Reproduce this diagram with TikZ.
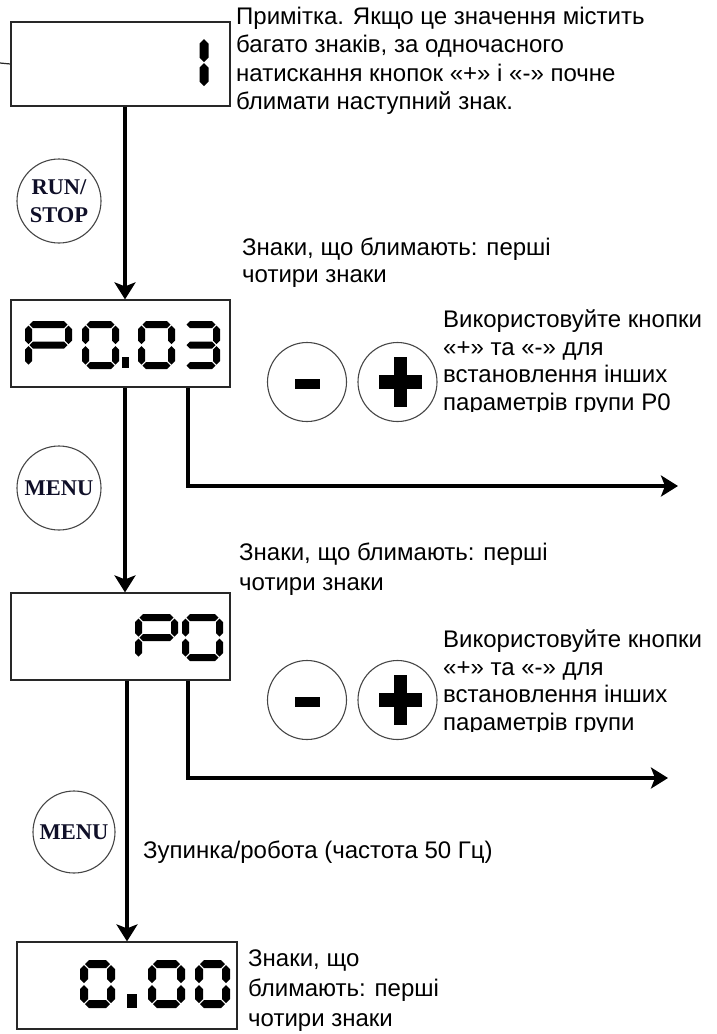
\documentclass[tikz,border=0pt]{standalone}
\usepackage{fontspec}
\setmainfont{Liberation Sans}
\newfontfamily\keyfont{Liberation Serif}
\usetikzlibrary{
    arrows.meta,
    positioning,
    calc
}
\definecolor{keyink}{RGB}{15,15,40}
\definecolor{rimgray}{RGB}{70,70,70}
\definecolor{boxgray}{RGB}{40,40,40}

% seven-segment helpers
\def\hs{3.5}
\newcommand\hseg[3]{\fill (#1,#3) -- (#1+\hs,#3-\hs) -- (#2-\hs,#3-\hs) -- (#2,#3) -- (#2-\hs,#3+\hs) -- (#1+\hs,#3+\hs) -- cycle;}
\newcommand\vseg[3]{\fill (#1,#2) -- (#1+\hs,#2+\hs) -- (#1+\hs,#3-\hs) -- (#1,#3) -- (#1-\hs,#3-\hs) -- (#1-\hs,#2+\hs) -- cycle;}
\def\lcdsega{\hseg{\hs+1}{\dw-\hs-1}{\hs}}
\def\lcdsegg{\hseg{\hs+1}{\dw-\hs-1}{\dh/2}}
\def\lcdsegd{\hseg{\hs+1}{\dw-\hs-1}{\dh-\hs}}
\def\lcdsegf{\vseg{\hs}{\hs+1}{\dh/2-1}}
\def\lcdsegb{\vseg{\dw-\hs}{\hs+1}{\dh/2-1}}
\def\lcdsege{\vseg{\hs}{\dh/2+1}{\dh-\hs-1}}
\def\lcdsegc{\vseg{\dw-\hs}{\dh/2+1}{\dh-\hs-1}}
\newcommand\lcddigit[5]{%
  \begin{scope}[shift={(#1,#2)}]
    \pgfmathsetmacro\dw{#3}\pgfmathsetmacro\dh{#4}
    \foreach \s in {#5}{\csname lcdseg\s\endcsname}
  \end{scope}}

\begin{document}
\begin{tikzpicture}[x=1pt, y=-1pt,
    dispbox/.style={draw=boxgray, line width=1.2pt, minimum width=219pt, minimum height=84pt, inner sep=0pt},
    keybtn/.style={circle, draw=rimgray, line width=1.1pt, minimum size=84pt, inner sep=0pt,
        font=\keyfont\bfseries\fontsize{22.5}{28}\selectfont, text=keyink, align=center},
    pmbtn/.style={circle, draw=rimgray, line width=1.1pt, minimum size=79pt, inner sep=0pt},
    flow/.style={line width=4.5pt, -{Stealth[length=17pt, width=21pt, inset=4pt]}},
    note/.style={anchor=north west, inner sep=0pt, align=left}
]
    \useasboundingbox (0,0) rectangle (716,1034);

    % displays
    \node[dispbox] (disp1) at (120.5,64) {};
    \node[dispbox, minimum height=87pt] (disp2) at (120.5,343.5) {};
    \node[dispbox, minimum height=87pt] (disp3) at (120.5,636.5) {};
    \node[dispbox, minimum width=220pt, minimum height=87pt] (disp4) at (127,985.5) {};
    \coordinate (stub) at (0,63);
    \draw[boxgray, line width=1.2pt] (stub) -- (disp1.west);

    % digits
    {\def\hs{4.5}
    \vseg{204}{39}{62}
    \vseg{204}{63}{86}}
    \lcddigit{25}{321}{47}{48}{a,b,e,f,g}
    \lcddigit{82}{321}{37}{48}{a,b,c,d,e,f}
    \fill (122,357) rectangle (129,368);
    \lcddigit{138}{321}{37}{48}{a,b,c,d,e,f}
    \lcddigit{182}{321}{38}{48}{a,b,c,d,g}
    \lcddigit{135}{614}{43}{47}{a,b,e,f,g}
    \lcddigit{182}{614}{41}{47}{a,b,c,d,e,f}
    {\def\hs{4}
    \lcddigit{80}{960}{35}{48}{a,b,c,d,e,f}
    \fill (127,994) rectangle (137,1008);
    \lcddigit{148}{960}{37}{48}{a,b,c,d,e,f}
    \lcddigit{195}{960}{35}{48}{a,b,c,d,e,f}}

    % keys
    \node[keybtn] (runstop) at (59,201) {RUN/\\STOP};
    \node[keybtn] (menuA) at (59,488) {MENU};
    \node[keybtn, minimum size=82pt] (menuB) at (74,832) {MENU};
    \node[pmbtn] (minusA) at (307,382) {};
    \node[pmbtn] (plusA) at (397.5,382) {};
    \node[pmbtn] (minusB) at (307,700) {};
    \node[pmbtn] (plusB) at (397.5,700) {};
    \foreach \b in {minusA,minusB}{
        \fill ([xshift=-12.5pt,yshift=3pt]\b.center) rectangle ([xshift=12.5pt,yshift=-7pt]\b.center);
    }
    \foreach \b in {plusA,plusB}{
        \fill ([xshift=-19pt,yshift=7pt]\b.center) rectangle ([xshift=24pt,yshift=-7pt]\b.center);
        \fill ([xshift=-4pt,yshift=25pt]\b.center) rectangle ([xshift=9pt,yshift=-25pt]\b.center);
    }

    % connectors
    \coordinate (outA) at (678,486);
    \coordinate (outB) at (668,778);
    \draw[flow] ([xshift=4.5pt]disp1.south) -- ([xshift=4.5pt]disp2.north);
    \draw[flow] ([xshift=4.5pt]disp2.south) -- ([xshift=4.5pt]disp3.north);
    \draw[flow] ([xshift=6.5pt]disp3.south) -- (disp4.north);
    \draw[flow] ([xshift=67.5pt]disp2.south) |- (outA);
    \draw[flow] ([xshift=67.5pt]disp3.south) |- (outB);

    % texts
    \node[note, font=\fontsize{24}{28.5}\selectfont] (remark) at (236,6.5)
        {Примітка. Якщо це значення містить\\багато знаків, за одночасного\\натискання кнопок «+» і «-» почне\\блимати наступний знак.};
    \node[note, font=\fontsize{24}{27}\selectfont] (blinkA) at (242,237.5)
        {Знаки, що блимають: перші\\чотири знаки};
    \begin{scope}
        \clip (430,290) rectangle (716,411.5);
        \node[note, font=\fontsize{24}{27.7}\selectfont] (useA) at (443,309.5)
            {Використовуйте кнопки\\«+» та «-» для\\встановлення інших\\параметрів групи P0};
    \end{scope}
    \node[note, font=\fontsize{24}{30}\selectfont] (blinkB) at (239,542.5)
        {Знаки, що блимають: перші\\чотири знаки};
    \begin{scope}
        \clip (430,610) rectangle (716,731);
        \node[note, font=\fontsize{24}{27.7}\selectfont] (useB) at (443,629.5)
            {Використовуйте кнопки\\«+» та «-» для\\встановлення інших\\параметрів групи};
    \end{scope}
    \node[note, font=\fontsize{24}{28}\selectfont] (stopnote) at (143,840.5)
        {Зупинка/робота (частота 50 Гц)};
    \node[note, font=\fontsize{24}{30}\selectfont] (blinkC) at (248,949.5)
        {Знаки, що\\блимають: перші\\чотири знаки};
\end{tikzpicture}
\end{document}
